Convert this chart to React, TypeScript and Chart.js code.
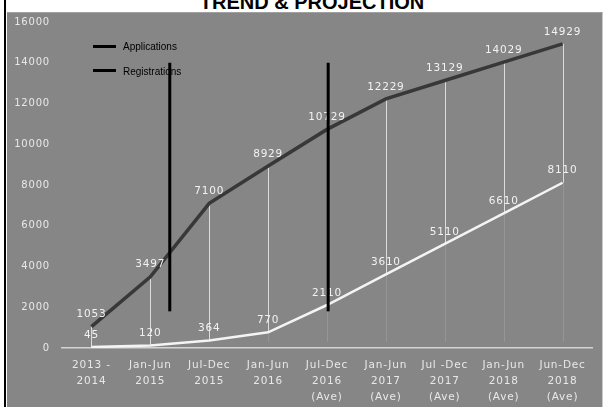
import React, { useEffect, useRef } from 'react';
import { Chart, registerables } from 'chart.js';

Chart.register(...registerables);

const categories: string[][] = [
  ['2013 -', '2014'],
  ['Jan-Jun', '2015'],
  ['Jul-Dec', '2015'],
  ['Jan-Jun', '2016'],
  ['Jul-Dec', '2016', '(Ave)'],
  ['Jan-Jun', '2017', '(Ave)'],
  ['Jul -Dec', '2017', '(Ave)'],
  ['Jan-Jun', '2018', '(Ave)'],
  ['Jun-Dec', '2018', '(Ave)'],
];
const applications = [1053, 3497, 7100, 8929, 10729, 12229, 13129, 14029, 14929];
const registrations = [45, 120, 364, 770, 2110, 3610, 5110, 6610, 8110];
const yMin = 0;
const yMax = 16000;
const yStep = 2000;
// annotation markers (category index position, value range)
const markerX = [1.33, 4.02];
const markerRange = [1800, 14000];

const seriesNames = ['Applications', 'Registrations'];

export default function App() {
  const ref = useRef<HTMLCanvasElement | null>(null);

  useEffect(() => {
    if (!ref.current) return;
    const spacingPlugin = {
      id: 'spacing',
      beforeLayout(chart: any) {
        chart.ctx.letterSpacing = '0.8px';
      },
      beforeDraw(chart: any) {
        chart.ctx.letterSpacing = '0.8px';
      },
    };
    const overlayPlugin = {
      id: 'overlay',
      beforeDatasetsDraw(chart: any) {
        const ctx = chart.ctx;
        const a = chart.getDatasetMeta(0).data;
        const r = chart.getDatasetMeta(1).data;
        const bottom = chart.chartArea.bottom;
        ctx.save();
        ctx.lineWidth = 1;
        for (let i = 0; i < a.length; i++) {
          const x = Math.round(a[i].x) + 0.5;
          ctx.strokeStyle = 'rgba(255,255,255,0.7)';
          ctx.beginPath();
          ctx.moveTo(x, a[i].y);
          ctx.lineTo(x, r[i].y);
          ctx.stroke();
          ctx.strokeStyle = 'rgba(255,255,255,0.13)';
          ctx.beginPath();
          ctx.moveTo(x, r[i].y);
          ctx.lineTo(x, bottom - 6);
          ctx.stroke();
        }
        ctx.restore();
      },
      afterDatasetsDraw(chart: any) {
        const ctx = chart.ctx;
        ctx.save();
        ctx.letterSpacing = '0.8px';
        ctx.font = '10.5px "DejaVu Sans"';
        ctx.fillStyle = '#f2f2f2';
        ctx.textAlign = 'center';
        ctx.textBaseline = 'middle';
        [0, 1].forEach((d) => {
          const meta = chart.getDatasetMeta(d);
          const vals = chart.data.datasets[d].data;
          meta.data.forEach((el: any, i: number) => {
            ctx.fillText(String(vals[i]), el.x, el.y - 12);
          });
        });
        ctx.restore();
        const xs = chart.scales.x;
        const ys = chart.scales.y;
        ctx.save();
        ctx.strokeStyle = '#000';
        ctx.lineWidth = 3;
        markerX.forEach((m) => {
          const px = xs.getPixelForValue(m);
          ctx.beginPath();
          ctx.moveTo(px, ys.getPixelForValue(markerRange[1]));
          ctx.lineTo(px, ys.getPixelForValue(markerRange[0]));
          ctx.stroke();
        });
        ctx.restore();
      },
    };

    const chart = new Chart(ref.current, {
      type: 'line',
      data: {
        labels: categories,
        datasets: [
          {
            label: seriesNames[0],
            data: applications,
            borderColor: '#383838',
            borderWidth: 3.5,
            pointRadius: 0,
            tension: 0,
            fill: false,
          },
          {
            label: seriesNames[1],
            data: registrations,
            borderColor: '#f4f4f4',
            borderWidth: 2.5,
            pointRadius: 0,
            tension: 0,
            fill: false,
          },
        ],
      },
      options: {
        animation: false,
        responsive: true,
        maintainAspectRatio: false,
        layout: { padding: { left: 0, right: 17, top: 22, bottom: 0 } },
        plugins: {
          legend: { display: false },
          tooltip: { enabled: false },
          title: { display: false },
        },
        scales: {
          x: {
            offset: true,
            grid: { display: false, drawTicks: false },
            border: { display: true, color: '#d4d4d4', width: 1.5 },
            ticks: {
              color: '#e8e8e8',
              font: { family: 'DejaVu Sans', size: 10.5, lineHeight: 1.55 },
              padding: 9,
              maxRotation: 0,
              autoSkip: false,
            },
            afterFit(scale: any) {
              scale.height = 59;
            },
          },
          y: {
            min: yMin,
            max: yMax,
            grid: { display: false, drawTicks: false },
            border: { display: false },
            ticks: {
              stepSize: yStep,
              color: '#e8e8e8',
              font: { family: 'DejaVu Sans', size: 10 },
              padding: 12,
              callback: (v: any) => String(v),
            },
            afterFit(scale: any) {
              scale.width = 62;
            },
          },
        },
      },
      plugins: [spacingPlugin, overlayPlugin],
    } as any);
    return () => chart.destroy();
  }, []);

  return (
    <div style={{ position: 'fixed', left: 0, top: 0, width: 609, height: 407, background: '#fff', overflow: 'hidden' }}>
      <div
        style={{
          position: 'absolute',
          left: 7,
          top: 12,
          width: 595,
          height: 395,
          background: '#868686',
          borderRight: '1px solid #c8c8c8',
          borderTop: '1px solid #a0a0a0',
        }}
      />
      <div style={{ position: 'absolute', left: 4, top: 0, width: 2, height: 407, background: '#000' }} />
      <div
        style={{
          position: 'absolute',
          left: 312,
          top: -8,
          transform: 'translateX(-50%)',
          whiteSpace: 'nowrap',
          fontFamily: '"Liberation Sans", Arial, sans-serif',
          fontWeight: 'bold',
          fontSize: 20,
          lineHeight: '20px',
          color: '#000',
        }}
      >
        TREND &amp; PROJECTION
      </div>
      <div style={{ position: 'absolute', left: 0, top: 0, width: 609, height: 407 }}>
        <canvas ref={ref} />
      </div>
      {seriesNames.map((n, i) => (
        <div key={n}>
          <div style={{ position: 'absolute', left: 93, top: 45 + i * 24, width: 23, height: 3, background: '#000' }} />
          <div
            style={{
              position: 'absolute',
              left: 123,
              top: 41 + i * 25,
              fontFamily: '"Liberation Sans", Arial, sans-serif',
              fontSize: 10,
              lineHeight: '12px',
              color: '#000',
              whiteSpace: 'nowrap',
            }}
          >
            {n}
          </div>
        </div>
      ))}
    </div>
  );
}
